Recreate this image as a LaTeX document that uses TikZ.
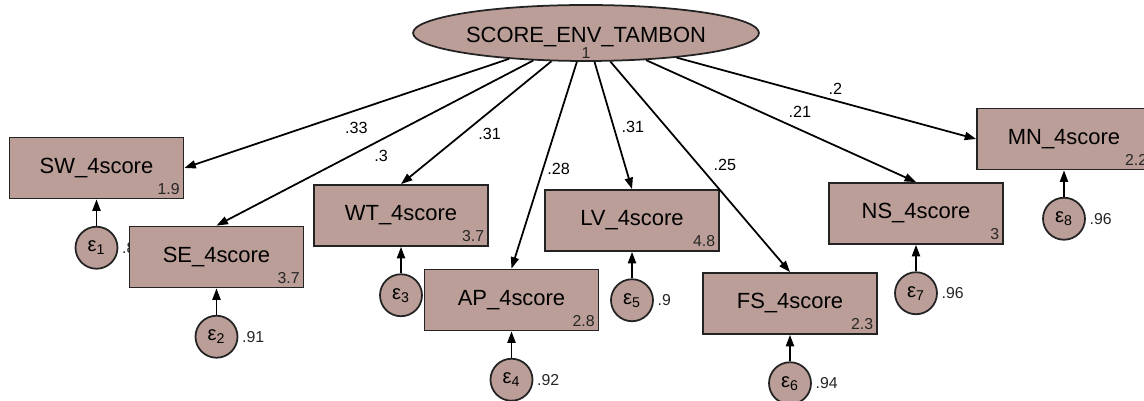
\documentclass[tikz,border=0pt]{standalone}
\usepackage{fontspec}
\setmainfont{Liberation Sans}
\usetikzlibrary{positioning,shapes.geometric,arrows.meta}
\definecolor{semfill}{RGB}{187,158,151}
\definecolor{semline}{RGB}{35,35,35}

\begin{document}
\begin{tikzpicture}[x=0.02cm,y=-0.02cm,
    >={Triangle[length=6.5pt,width=4.6pt]},
    latent/.style={ellipse,draw=semline,fill=semfill,line width=1pt,minimum width=6.92cm,minimum height=1.12cm},
    obs/.style={rectangle,draw=semline,fill=semfill,line width=1pt,minimum width=3.48cm,minimum height=1.22cm,font=\fontsize{12.5}{14}\selectfont},
    err/.style={circle,draw=semline,fill=semfill,line width=1pt,minimum size=0.84cm,inner sep=0pt,font=\fontsize{11.5}{13}\selectfont},
    num/.style={inner sep=1pt,font=\fontsize{9}{10}\selectfont,text=black!85},
    lbl/.style={inner sep=1pt,font=\fontsize{9.2}{10}\selectfont}]
                \useasboundingbox (0,0) rectangle (1144,401);
                \clip (0,0) rectangle (1144,401);
                \node[latent] (ell) at (586,33) {};
                \node[font=\fontsize{12.5}{14}\selectfont] (elltxt) at ([yshift=-2.3pt]ell.center) {SCORE\_ENV\_TAMBON};
                \node[num] (ellnum) at ([yshift=-11.3pt]ell.center) {1};
                \foreach \nm/\px/\py/\mean/\i/\var in {SW/96.5/168/1.9/1/.8, SE/216.5/257/3.7/2/.91,
                        WT/401/215.5/3.7/3/, AP/511.5/300/2.8/4/.92, LV/632/220.5/4.8/5/.9,
                        FS/790/303.5/2.3/6/.94, NS/916/213.5/3/7/.96, MN/1064/139/2.2/8/.96} {
                    \node[obs] (\nm) at (\px,\py) {\nm\_4score};
                    \node[num,anchor=south east,xshift=-1.5pt,yshift=1.5pt] (\nm-v) at (\nm.south east) {\mean};
                    \node[err,below=0.53cm of \nm] (e\i) {ε\textsubscript{\i}};
                    \draw[->,line width=1pt] (e\i) -- (\nm);
                    \node[num,anchor=west,xshift=1pt] (e\i-v) at (e\i.east) {\var};
                }
                \foreach \nm/\tgt/\w/\p/\dx/\dy in {SW/east/.33/.47/0/-10, SE/north/.3/.48/0/-9,
                        WT/north/.31/.41/0/-12.5, AP/north/.28/.52/9/0, LV/north/.31/.51/11/0,
                        FS/north/.25/.49/15/0, NS/north/.21/.57/0/10, MN/west/.2/.53/0/7}
                    \draw[->,line width=1pt] (ell) -- (\nm.\tgt) node[lbl,pos=\p,xshift=\dx pt,yshift=\dy pt] {\w};
            \end{tikzpicture}
\end{document}
